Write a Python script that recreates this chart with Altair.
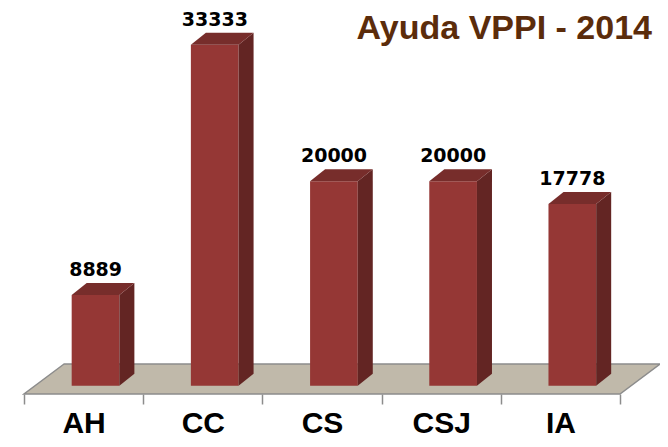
import altair as alt
import pandas as pd

categories = ["AH", "CC", "CS", "CSJ", "IA"]
values = [8889, 33333, 20000, 20000, 17778]
title_text = ["Ayuda VPPI - 2014"]

# geometry of the pseudo-3D bars (band units / value units)
FRONT_L, FRONT_R = 0.4, 0.8
DX, DY = 0.126, 1173
FLOOR_Y0, FLOOR_Y1, FLOOR_DX = -800, 2133, 0.336
N = len(categories)

C_FRONT = "#953735"
C_SIDE = "#632523"
C_TOP = "#772D2B"
C_FLOOR = "#C0B9AA"
C_EDGE = "#8C8C8C"

front = pd.DataFrame({
    "cat": categories,
    "xl": [i + FRONT_L for i in range(N)],
    "xr": [i + FRONT_R for i in range(N)],
    "v": values,
    "y0": [0] * N,
})

side_rows, top_rows = [], []
for i, (c, v) in enumerate(zip(categories, values)):
    side_rows.append({"cat": c, "x": i + FRONT_R, "ya": 0, "yb": v})
    side_rows.append({"cat": c, "x": i + FRONT_R + DX, "ya": DY, "yb": v + DY})
    top_rows.append({"cat": c, "y": v, "xa": i + FRONT_L, "xb": i + FRONT_R})
    top_rows.append({"cat": c, "y": v + DY, "xa": i + FRONT_L + DX, "xb": i + FRONT_R + DX})
side = pd.DataFrame(side_rows)
top = pd.DataFrame(top_rows)

floor = pd.DataFrame({
    "y": [FLOOR_Y0, FLOOR_Y1],
    "xa": [0, FLOOR_DX],
    "xb": [N, N + FLOOR_DX],
})

labels = pd.DataFrame({"cat": categories, "v": values})
title_df = pd.DataFrame({"t": title_text})

xq = alt.Scale(domain=[0, N], nice=False, zero=False)
yq = alt.Scale(domain=[-800, 34000], nice=False, zero=False)

floor_layer = alt.Chart(floor).mark_area(
    orient="horizontal", color=C_FLOOR, stroke=C_EDGE, strokeWidth=1.5
).encode(
    y=alt.Y("y:Q", scale=yq, axis=None),
    x=alt.X("xa:Q", scale=xq, axis=None),
    x2="xb:Q",
)

front_layer = alt.Chart(front).mark_rect(color=C_FRONT).encode(
    x=alt.X("xl:Q", scale=xq, axis=None),
    x2="xr:Q",
    y=alt.Y("y0:Q", scale=yq, axis=None),
    y2="v:Q",
)

side_layer = alt.Chart(side).mark_area(color=C_SIDE).encode(
    x=alt.X("x:Q", scale=xq, axis=None),
    y=alt.Y("ya:Q", scale=yq, axis=None),
    y2="yb:Q",
    detail="cat:N",
)

top_layer = alt.Chart(top).mark_area(orient="horizontal", color=C_TOP).encode(
    y=alt.Y("y:Q", scale=yq, axis=None),
    x=alt.X("xa:Q", scale=xq, axis=None),
    x2="xb:Q",
    detail="cat:N",
)

label_layer = alt.Chart(labels).mark_text(
    font="DejaVu Sans", fontSize=19, fontWeight="bold", color="black",
    baseline="alphabetic", dx=12, dy=-19,
).encode(
    x=alt.X(
        "cat:N", sort=categories,
        scale=alt.Scale(paddingInner=0, paddingOuter=0),
        axis=alt.Axis(
            title=None, labelAngle=0, domain=False, tickBand="extent",
            tickColor=C_EDGE, tickWidth=1.5, tickSize=10,
            labelFont="Liberation Sans", labelFontSize=30, labelFontWeight="bold",
            labelColor="black", labelBaseline="alphabetic", labelPadding=28,
            grid=False,
        ),
    ),
    y=alt.Y("v:Q", scale=yq, axis=None),
    text=alt.Text("v:Q", format="d"),
)

title_layer = alt.Chart(title_df).mark_text(
    font="Liberation Sans", fontSize=34, fontWeight="bold", color="#5B2C0B",
    align="right", baseline="alphabetic",
).encode(
    x=alt.value(628),
    y=alt.value(1),
    text="t:N",
)

chart = alt.layer(
    floor_layer, front_layer, side_layer, top_layer, label_layer, title_layer
).resolve_scale(x="independent").properties(
    width=596,
    height=356,
    autosize=alt.AutoSizeParams(type="none"),
    padding={"left": 16, "top": 30, "right": 40, "bottom": 45},
).configure(background="white").configure_view(stroke=None)

chart.save("out.html", embed_options={"renderer": "svg", "actions": False})
